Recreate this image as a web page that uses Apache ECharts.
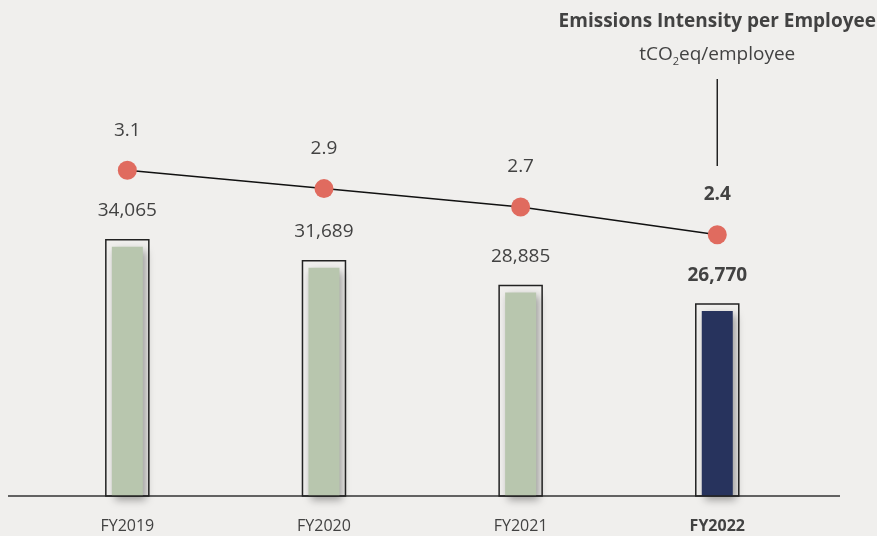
<!DOCTYPE html>
<html>
<head>
<meta charset="utf-8">
<script src="https://cdn.jsdelivr.net/npm/echarts@6/dist/echarts.min.js"></script>
<style>
  html, body { margin: 0; padding: 0; background: #f0efed; }
  #chart { width: 877px; height: 536px; }
</style>
</head>
<body>
<div id="chart"></div>
<script>
// ---- data ----
const categories = ['FY2019', 'FY2020', 'FY2021', 'FY2022'];
const totalEmissions = [34065, 31689, 28885, 26770];
const intensity = [3.1, 2.9, 2.7, 2.4];
const chartTitle = 'Emissions Intensity per Employee';
const unitLabel = ['tCO', '2', 'eq/employee'];

// ---- styles ----
const FONT = '"Open Sans", "Noto Sans", sans-serif';
const TEXT = '#424242';
const GREEN = '#b8c6ae';
const NAVY = '#27335d';
const RED = '#e06b5f';
const BAR_MIN = 5000;
const LAST = categories.length - 1;

const chart = echarts.init(document.getElementById('chart'));

function fmt(v) { return v.toLocaleString('en-US'); }

function renderBar(params, api) {
  const i = api.value(0);
  const v = api.value(1);
  const top = api.coord([i, v]);
  const base = api.coord([i, BAR_MIN]);
  const outerW = 43, innerW = 31, inset = 7;
  const isLast = i === LAST;
  return {
    type: 'group',
    children: [
      {
        type: 'rect',
        shape: { x: top[0] - innerW / 2, y: top[1] + inset, width: innerW, height: base[1] - top[1] - inset },
        style: {
          fill: isLast ? NAVY : GREEN,
          shadowBlur: 8, shadowOffsetX: 3, shadowOffsetY: 4, shadowColor: 'rgba(0,0,0,0.35)'
        }
      },
      {
        type: 'rect',
        shape: { x: top[0] - outerW / 2, y: top[1], width: outerW, height: base[1] - top[1] },
        style: { fill: 'none', stroke: '#222', lineWidth: 1.5 }
      },
      {
        type: 'text',
        x: top[0], y: top[1] - 29,
        style: {
          text: fmt(v), align: 'center', verticalAlign: 'middle',
          fontFamily: FONT, fontSize: 19, fill: TEXT,
          fontWeight: isLast ? 'bold' : 'normal'
        }
      }
    ]
  };
}

const option = {
  backgroundColor: '#f0efed',
  animation: false,
  grid: { left: 29, right: 61.4, top: 55.3, bottom: 40 },
  xAxis: {
    type: 'category',
    data: categories.map((c, i) => i === LAST ? { value: c, textStyle: { fontWeight: 'bold' } } : c),
    axisLine: { show: false },
    axisTick: { show: false },
    axisLabel: { margin: 22, fontFamily: FONT, fontSize: 16, color: TEXT }
  },
  yAxis: [
    { type: 'value', min: BAR_MIN, max: 55000, show: false, splitLine: { show: false } },
    { type: 'value', min: -0.434, max: 4.346, show: false, splitLine: { show: false } }
  ],
  series: [
    {
      type: 'custom',
      renderItem: renderBar,
      data: totalEmissions.map((v, i) => [i, v]),
      encode: { x: 0, y: 1 },
      z: 2
    },
    {
      type: 'line',
      yAxisIndex: 1,
      data: intensity.map((v, i) => i === LAST ? { value: v, label: { fontWeight: 'bold' } } : v),
      symbol: 'circle',
      symbolSize: 19,
      itemStyle: { color: RED },
      lineStyle: { color: '#111', width: 1.5 },
      label: {
        show: true, position: 'top', distance: 20.5,
        fontFamily: FONT, fontSize: 19, lineHeight: 20, color: TEXT
      },
      z: 3
    }
  ]
};
chart.setOption(option);

// annotation + baseline placed from the chart's own scales
const lastX = chart.convertToPixel({ xAxisIndex: 0 }, LAST);
const baseY = chart.convertToPixel({ yAxisIndex: 0 }, BAR_MIN);
chart.setOption({
  graphic: [
    {
      type: 'line', z: 1,
      shape: { x1: 8, y1: baseY, x2: 840, y2: baseY },
      style: { stroke: '#333', lineWidth: 1.5 }
    },
    {
      type: 'text', x: lastX, y: 22,
      style: {
        text: chartTitle, align: 'center', verticalAlign: 'middle',
        fontFamily: FONT, fontSize: 19, fontWeight: 'bold', fill: TEXT
      }
    },
    {
      type: 'text', x: lastX, y: 55,
      style: {
        text: '{a|' + unitLabel[0] + '}{s|' + unitLabel[1] + '}{a|' + unitLabel[2] + '}',
        align: 'center', verticalAlign: 'middle',
        rich: {
          a: { fontFamily: FONT, fontSize: 19, lineHeight: 24, fill: TEXT },
          s: { fontFamily: FONT, fontSize: 11, lineHeight: 12, fill: TEXT, verticalAlign: 'bottom' }
        }
      }
    },
    {
      type: 'line',
      shape: { x1: lastX, y1: 79, x2: lastX, y2: 166 },
      style: { stroke: '#222', lineWidth: 1.5 }
    }
  ]
});
</script>
</body>
</html>
